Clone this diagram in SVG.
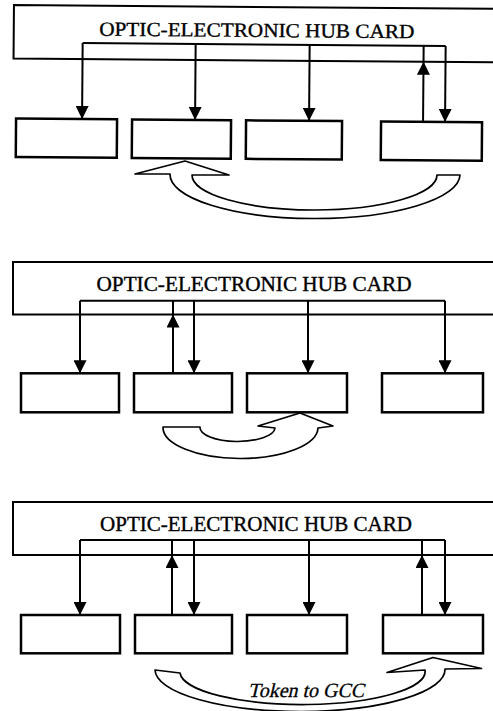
<svg xmlns="http://www.w3.org/2000/svg" width="493" height="711" viewBox="0 0 493 711">
<defs>
<marker id="ah" viewBox="0 0 13 13" refX="13" refY="6.5" markerWidth="13" markerHeight="13" markerUnits="userSpaceOnUse" orient="auto">
<path d="M0,0 L13,6.5 L0,13 Z" fill="#000"/>
</marker>
<style>
.hub{fill:none;stroke:#000;stroke-width:2}
.box{fill:#fff;stroke:#000;stroke-width:2.5}
.ln{fill:none;stroke:#000;stroke-width:2}
.arr{fill:none;stroke:#000;stroke-width:2;marker-end:url(#ah)}
.ttl{font-family:"Liberation Serif","Times New Roman",serif;font-size:20px;fill:#000;stroke:#000;stroke-width:0.35}
.tok{font-family:"Liberation Serif","Times New Roman",serif;font-size:20px;fill:#000;stroke:#000;stroke-width:0.3}
.curve{fill:#fff;stroke:#000;stroke-width:1.7;stroke-linejoin:round}
</style>
</defs>
<rect width="493" height="711" fill="#fff"/>

<!-- Panel 1 -->
<g id="panel1" transform="rotate(0.45 14 0)">
<g id="hub1"><path class="hub" d="M500,5 H14 V58.5 H500"/>
<text class="ttl" x="257" y="35" text-anchor="middle" textLength="315" lengthAdjust="spacingAndGlyphs">OPTIC-ELECTRONIC HUB CARD</text></g>
<g id="p1n1"><rect class="box" x="17" y="118.5" width="101" height="38.5"/></g>
<g id="p1n2"><rect class="box" x="133" y="118.5" width="99" height="38.5"/></g>
<g id="p1n3"><rect class="box" x="247" y="118.5" width="96" height="38.5"/></g>
<g id="p1n4"><rect class="box" x="382" y="118.5" width="101" height="38.5"/></g>
<g id="p1conn">
<path class="ln" d="M83,42.5 H446"/>
<path class="arr" d="M83,42.5 V118.5"/>
<path class="arr" d="M196,42.5 V118.5"/>
<path class="arr" d="M310,42.5 V118.5"/>
<path class="arr" d="M446,42.5 V118.5"/>
<path class="arr" d="M424,118.5 V58.5"/>
<path class="ln" d="M424,58.5 V42.5"/>
</g>
</g>
<g id="p1token"><path class="curve" d="M135,174 L185,161 L229,175 L192,175 A122.5,35 0 0 0 437,175 L460,175 A145,44 0 0 1 170,174 Z"/></g>

<!-- Panel 2 -->
<g id="panel2">
<g id="hub2"><path class="hub" d="M500,262 H13 V314.5 H500"/>
<text class="ttl" x="254" y="291" text-anchor="middle" textLength="315" lengthAdjust="spacingAndGlyphs">OPTIC-ELECTRONIC HUB CARD</text></g>
<g id="p2n1"><rect class="box" x="21" y="373.3" width="98" height="39"/></g>
<g id="p2n2"><rect class="box" x="134" y="373.3" width="98" height="39"/></g>
<g id="p2n3"><rect class="box" x="247" y="373.3" width="100" height="39"/></g>
<g id="p2n4"><rect class="box" x="382" y="373.3" width="101" height="39"/></g>
<g id="p2conn">
<path class="ln" d="M80,300.7 H445"/>
<path class="arr" d="M80,300.7 V373.3"/>
<path class="arr" d="M194,300.7 V373.3"/>
<path class="arr" d="M308,300.7 V373.3"/>
<path class="arr" d="M445,300.7 V373.3"/>
<path class="arr" d="M173,373.3 V314.5"/>
<path class="ln" d="M173,314.5 V300.7"/>
</g>
<g id="p2token"><path class="curve" d="M163,427 L200,427 A37.5,14 0 0 0 275,428 L258,426 L300,413 L333,426 L318,428 A77.5,31 0 0 1 163,427 Z"/></g>
</g>

<!-- Panel 3 -->
<g id="panel3">
<g id="hub3"><path class="hub" d="M500,502 H13 V555 H500"/>
<text class="ttl" x="256" y="531" text-anchor="middle" textLength="312" lengthAdjust="spacingAndGlyphs">OPTIC-ELECTRONIC HUB CARD</text></g>
<g id="p3n1"><rect class="box" x="21" y="615" width="99" height="38.3"/></g>
<g id="p3n2"><rect class="box" x="135" y="615" width="97" height="38.3"/></g>
<g id="p3n3"><rect class="box" x="247" y="615" width="100" height="38.3"/></g>
<g id="p3n4"><rect class="box" x="383" y="615" width="100" height="38.3"/></g>
<g id="p3conn">
<path class="ln" d="M80,540 H445"/>
<path class="arr" d="M80,540 V615"/>
<path class="arr" d="M194,540 V615"/>
<path class="arr" d="M309,540 V615"/>
<path class="arr" d="M445,540 V615"/>
<path class="arr" d="M172,615 V555"/>
<path class="ln" d="M172,555 V540"/>
<path class="arr" d="M422,615 V555"/>
<path class="ln" d="M422,555 V540"/>
</g>
<g id="p3token"><path class="curve" d="M155,670 L180,673 A122.5,33 0 0 0 425,670 L387,672.5 L433,657.5 L481.5,668.5 L445,669 A145,42 0 0 1 155,670 Z"/>
<text class="tok" transform="translate(306 697) skewX(-13)" x="0" y="0" text-anchor="middle" textLength="116" lengthAdjust="spacingAndGlyphs">Token to GCC</text></g>
</g>
</svg>
